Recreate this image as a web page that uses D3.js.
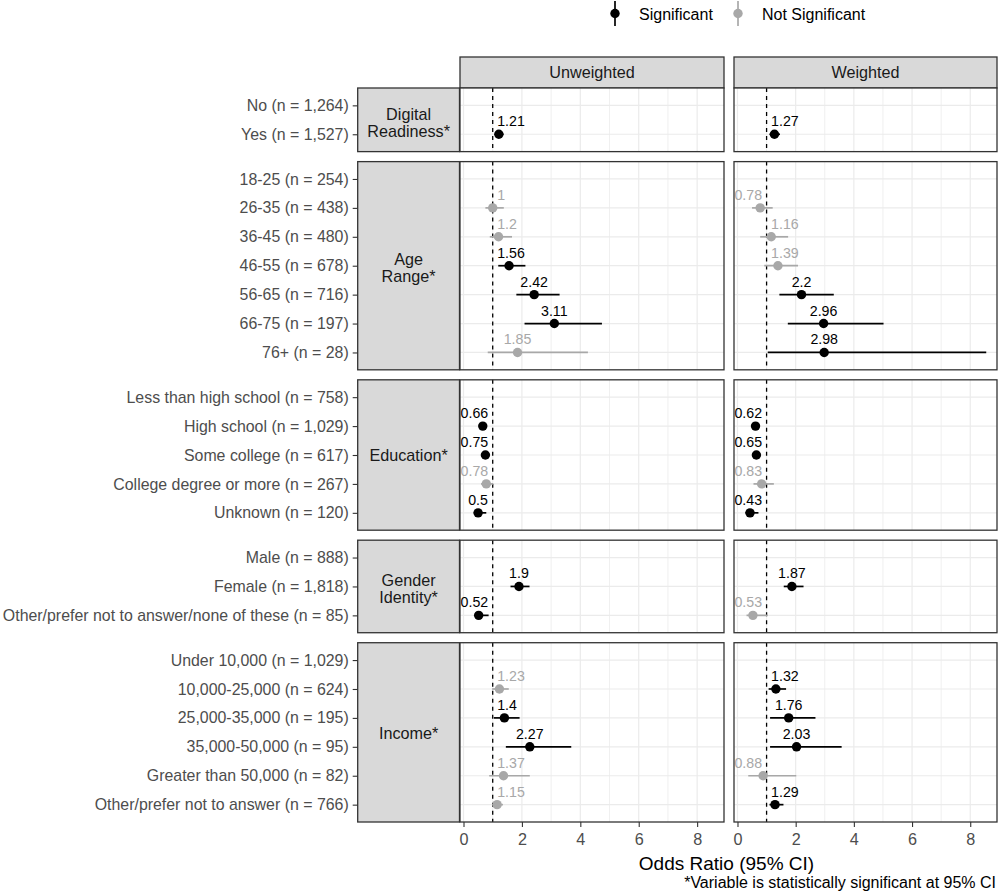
<!DOCTYPE html>
<html>
<head>
<meta charset="utf-8">
<script src="https://cdn.jsdelivr.net/npm/d3@7"></script>
<style>
  body { margin: 0; background: #fff; }
  svg { font-family: "Liberation Sans", Arial, sans-serif; }
</style>
</head>
<body>
<svg id="chart" width="999" height="896"></svg>
<script>
// ---- data ----
const groups = ["Digital\nReadiness*", "Age\nRange*", "Education*", "Gender\nIdentity*", "Income*"];
const rowGroup = [0, 0, 1, 1, 1, 1, 1, 1, 1, 2, 2, 2, 2, 2, 3, 3, 3, 4, 4, 4, 4, 4, 4];
const rowLabels = [
  "No (n = 1,264)", "Yes (n = 1,527)",
  "18-25 (n = 254)", "26-35 (n = 438)", "36-45 (n = 480)", "46-55 (n = 678)",
  "56-65 (n = 716)", "66-75 (n = 197)", "76+ (n = 28)",
  "Less than high school (n = 758)", "High school (n = 1,029)", "Some college (n = 617)",
  "College degree or more (n = 267)", "Unknown (n = 120)",
  "Male (n = 888)", "Female (n = 1,818)", "Other/prefer not to answer/none of these (n = 85)",
  "Under 10,000 (n = 1,029)", "10,000-25,000 (n = 624)", "25,000-35,000 (n = 195)",
  "35,000-50,000 (n = 95)", "Greater than 50,000 (n = 82)", "Other/prefer not to answer (n = 766)"
];

// null = reference level (no estimate drawn)
const unweightedOR   = [null, 1.21, null, 1.00, 1.2, 1.56, 2.42, 3.11, 1.85, null, 0.66, 0.75, 0.78, 0.5, null, 1.9, 0.52, null, 1.23, 1.4, 2.27, 1.37, 1.15];
const unweightedLow  = [null, 1.07, null, 0.75, 0.90, 1.19, 1.81, 2.09, 0.83, null, 0.57, 0.64, 0.60, 0.35, null, 1.61, 0.37, null, 0.98, 1.04, 1.45, 0.88, 0.98];
const unweightedHigh = [null, 1.37, null, 1.38, 1.66, 2.12, 3.29, 4.74, 4.26, null, 0.77, 0.88, 1.01, 0.78, null, 2.26, 0.86, null, 1.55, 1.92, 3.69, 2.27, 1.35];
const unweightedSig  = [null, true, null, false, false, true, true, true, false, null, true, true, false, true, null, true, true, null, false, true, true, false, false];

const weightedOR   = [null, 1.27, null, 0.78, 1.16, 1.39, 2.2, 2.96, 2.98, null, 0.62, 0.65, 0.83, 0.43, null, 1.87, 0.53, null, 1.32, 1.76, 2.03, 0.88, 1.29];
const weightedLow  = [null, 1.10, null, 0.50, 0.78, 0.92, 1.44, 1.73, 1.04, null, 0.52, 0.55, 0.55, 0.27, null, 1.59, 0.31, null, 1.07, 1.12, 1.12, 0.37, 1.10];
const weightedHigh = [null, 1.46, null, 1.21, 1.74, 2.08, 3.31, 5.02, 8.55, null, 0.74, 0.77, 1.25, 0.72, null, 2.27, 1.02, null, 1.67, 2.68, 3.58, 2.02, 1.58];
const weightedSig  = [null, true, null, false, false, false, true, true, true, null, true, true, false, true, null, true, false, null, true, true, true, false, true];

const facets = ["Unweighted", "Weighted"];
const xTicks = [0, 2, 4, 6, 8];
const legendLabels = ["Significant", "Not Significant"];

// ---- layout ----
const svg = d3.select("#chart");
const colors = { sig: "#000000", ns: "#A8A8A8" };
const plotTop = 88, plotBottom = 822, gap = 10;
const stripTop = 57;
const rowStrip = [357.7, 459.5];
const colRange = [[460, 724], [734, 997]];
const borderColor = "#333333";
const gridColor = "#EBEBEB";
const axisFont = "16.2px";
const rowFont = "15.9px";

const series = [
  { or: unweightedOR, lo: unweightedLow, hi: unweightedHigh, sig: unweightedSig },
  { or: weightedOR, lo: weightedLow, hi: weightedHigh, sig: weightedSig }
];

const xScales = colRange.map(r => d3.scaleLinear().domain([-0.12, 8.92]).range(r));

const rowsPer = groups.map((g, i) => rowGroup.filter(r => r === i).length);
const unit = (plotBottom - plotTop - gap * (groups.length - 1)) / d3.sum(rowsPer, n => n + 0.2);

let cursor = plotTop;
const panels = groups.map((g, i) => {
  const h = (rowsPer[i] + 0.2) * unit;
  const idx = d3.range(rowLabels.length).filter(k => rowGroup[k] === i);
  const y = d3.scalePoint()
    .domain(idx.map(k => rowLabels[k]))
    .range([cursor, cursor + h])
    .padding(0.6);
  const p = { name: g, top: cursor, bottom: cursor + h, idx, y };
  cursor += h + gap;
  return p;
});

// ---- top strips ----
facets.forEach((f, j) => {
  const [x0, x1] = colRange[j];
  svg.append("rect")
    .attr("x", x0).attr("y", stripTop)
    .attr("width", x1 - x0).attr("height", plotTop - stripTop)
    .attr("fill", "#D9D9D9")
    .attr("stroke", borderColor).attr("stroke-width", 1.3);
  svg.append("text")
    .attr("x", (x0 + x1) / 2)
    .attr("y", (stripTop + plotTop) / 2 + 5.7)
    .attr("text-anchor", "middle")
    .style("font-size", axisFont)
    .style("fill", "#1A1A1A")
    .text(f);
});

panels.forEach(p => {
  // row strip on the left
  svg.append("rect")
    .attr("x", rowStrip[0]).attr("y", p.top)
    .attr("width", rowStrip[1] - rowStrip[0]).attr("height", p.bottom - p.top)
    .attr("fill", "#D9D9D9")
    .attr("stroke", borderColor).attr("stroke-width", 1.3);

  const lines = p.name.split("\n");
  const mid = (p.top + p.bottom) / 2;
  const lineH = 17;
  const label = svg.append("text")
    .attr("text-anchor", "middle")
    .style("font-size", axisFont)
    .style("fill", "#1A1A1A");
  lines.forEach((l, li) => {
    label.append("tspan")
      .attr("x", (rowStrip[0] + rowStrip[1]) / 2)
      .attr("y", mid + 5.7 + (li - (lines.length - 1) / 2) * lineH + (lines.length > 1 ? 2.5 : 0.5))
      .text(l);
  });

  // y axis (row labels)
  const yAxis = svg.append("g")
    .attr("transform", `translate(${rowStrip[0]},0)`)
    .call(d3.axisLeft(p.y).tickSize(5).tickPadding(4));
  yAxis.select(".domain").remove();
  yAxis.selectAll("line").attr("stroke", borderColor).attr("stroke-width", 1.1);
  yAxis.selectAll("text")
    .style("font-size", rowFont)
    .style("font-family", "'Liberation Sans', Arial, sans-serif")
    .attr("fill", "#4D4D4D");

  facets.forEach((f, j) => {
    const x = xScales[j];
    const s = series[j];
    const [x0, x1] = colRange[j];
    const g = svg.append("g").attr("class", "panel");

    g.append("rect")
      .attr("x", x0).attr("y", p.top)
      .attr("width", x1 - x0).attr("height", p.bottom - p.top)
      .attr("fill", "#fff");

    // vertical grid: minor at odd, major at even integers
    g.selectAll(".vgrid")
      .data(d3.range(0, 9))
      .enter().append("line")
      .attr("x1", d => x(d)).attr("x2", d => x(d))
      .attr("y1", p.top).attr("y2", p.bottom)
      .attr("stroke", gridColor)
      .attr("stroke-width", d => d % 2 === 0 ? 1.2 : 0.8);

    // horizontal grid at each row
    g.selectAll(".hgrid")
      .data(p.idx)
      .enter().append("line")
      .attr("x1", x0).attr("x2", x1)
      .attr("y1", k => p.y(rowLabels[k])).attr("y2", k => p.y(rowLabels[k]))
      .attr("stroke", gridColor)
      .attr("stroke-width", 1.2);

    // reference line at OR = 1
    g.append("line")
      .attr("x1", x(1)).attr("x2", x(1))
      .attr("y1", p.top).attr("y2", p.bottom)
      .attr("stroke", "#000")
      .attr("stroke-width", 1.3)
      .attr("stroke-dasharray", "4,4");

    const est = p.idx.filter(k => s.or[k] !== null);
    const col = k => s.sig[k] ? colors.sig : colors.ns;

    g.selectAll(".ci")
      .data(est)
      .enter().append("line")
      .attr("x1", k => x(s.lo[k])).attr("x2", k => x(s.hi[k]))
      .attr("y1", k => p.y(rowLabels[k])).attr("y2", k => p.y(rowLabels[k]))
      .attr("stroke", col)
      .attr("stroke-width", 1.7);

    g.selectAll(".pt")
      .data(est)
      .enter().append("circle")
      .attr("cx", k => x(s.or[k]))
      .attr("cy", k => p.y(rowLabels[k]))
      .attr("r", 4.7)
      .attr("fill", col);

    // value labels, nudged off the dashed reference line
    const refX = x(1), pad = 4.5;
    g.selectAll(".val")
      .data(est)
      .enter().append("text")
      .attr("y", k => p.y(rowLabels[k]) - 8)
      .attr("text-anchor", "middle")
      .style("font-size", "14.2px")
      .attr("fill", col)
      .text(k => String(s.or[k]))
      .each(function(k) {
        const w = this.getComputedTextLength();
        let cx = x(s.or[k]);
        if (cx - w / 2 < refX + pad && cx + w / 2 > refX - pad) {
          cx = s.or[k] >= 1 ? refX + pad + w / 2 : refX - pad - w / 2;
        }
        d3.select(this).attr("x", cx);
      });

    g.append("rect")
      .attr("x", x0).attr("y", p.top)
      .attr("width", x1 - x0).attr("height", p.bottom - p.top)
      .attr("fill", "none")
      .attr("stroke", borderColor).attr("stroke-width", 1.3);
  });
});

// ---- x axes ----
xScales.forEach(x => {
  const ax = svg.append("g")
    .attr("transform", `translate(0,${plotBottom})`)
    .call(d3.axisBottom(x).tickValues(xTicks).tickSize(5).tickPadding(6));
  ax.select(".domain").remove();
  ax.selectAll("line").attr("stroke", borderColor).attr("stroke-width", 1.1);
  ax.selectAll("text")
    .style("font-size", axisFont)
    .style("font-family", "'Liberation Sans', Arial, sans-serif")
    .attr("fill", "#4D4D4D");
});

svg.append("text")
  .attr("x", (colRange[0][0] + colRange[1][1]) / 2 - 2)
  .attr("y", 870)
  .attr("text-anchor", "middle")
  .style("font-size", "19px")
  .text("Odds Ratio (95% CI)");

svg.append("text")
  .attr("x", 996)
  .attr("y", 888)
  .attr("text-anchor", "end")
  .style("font-size", "16px")
  .text("*Variable is statistically significant at 95% CI");

// ---- legend ----
const legendX = [615, 738];
legendLabels.forEach((l, i) => {
  const c = i === 0 ? colors.sig : colors.ns;
  const lg = svg.append("g").attr("transform", `translate(${legendX[i]},0)`);
  lg.append("line")
    .attr("x1", 0).attr("x2", 0)
    .attr("y1", 1).attr("y2", 26)
    .attr("stroke", c).attr("stroke-width", 1.7);
  lg.append("circle")
    .attr("cx", 0).attr("cy", 13.5).attr("r", 4.7)
    .attr("fill", c);
  lg.append("text")
    .attr("x", 24)
    .attr("y", 20)
    .style("font-size", "16px")
    .style("fill", "#000")
    .text(l);
});
</script>
</body>
</html>
